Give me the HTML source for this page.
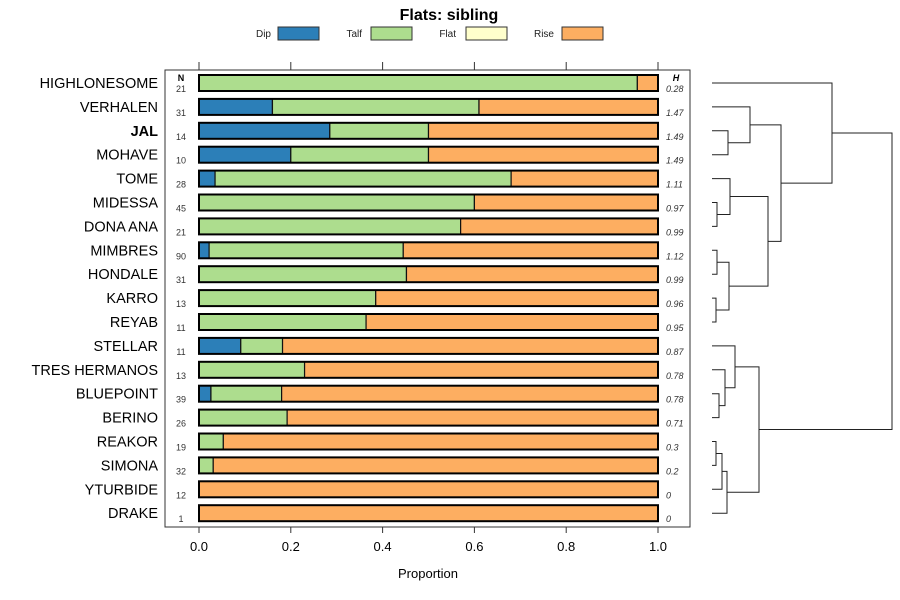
<!DOCTYPE html>
<html><head><meta charset="utf-8"><style>body{margin:0;background:#fff}svg{display:block;font-family:"Liberation Sans",sans-serif}</style></head>
<body>
<svg id="chart" width="900" height="600">
<text x="449" y="20" text-anchor="middle" font-size="16" font-weight="bold">Flats: sibling</text>
<g id="legend"></g>
<rect x="165" y="70" width="525" height="457" fill="none" stroke="#333"/>
<g id="bars"></g><g id="axes"></g><g id="dendro" stroke="#222" fill="none"></g>
<text x="428" y="578" text-anchor="middle" font-size="13">Proportion</text>
<text x="181" y="81" text-anchor="middle" font-size="9" font-weight="bold">N</text>
<text x="676" y="81" text-anchor="middle" font-size="9" font-weight="bold" font-style="italic">H</text>
</svg>
<script>
const categories=["HIGHLONESOME","VERHALEN","JAL","MOHAVE","TOME","MIDESSA","DONA ANA","MIMBRES","HONDALE","KARRO","REYAB","STELLAR","TRES HERMANOS","BLUEPOINT","BERINO","REAKOR","SIMONA","YTURBIDE","DRAKE"];
const dip=[0,0.16,0.285,0.2,0.035,0,0,0.022,0,0,0,0.091,0,0.026,0,0,0,0,0];
const talf=[0.955,0.45,0.215,0.3,0.645,0.6,0.57,0.423,0.452,0.385,0.364,0.091,0.23,0.154,0.192,0.053,0.031,0,0];
const flat=[0,0,0,0,0,0,0,0,0,0,0,0,0,0,0,0,0,0,0];
const nvals=[21,31,14,10,28,45,21,90,31,13,11,11,13,39,26,19,32,12,1];
const hvals=["0.28","1.47","1.49","1.49","1.11","0.97","0.99","1.12","0.99","0.96","0.95","0.87","0.78","0.78","0.71","0.3","0.2","0","0"];
const xticks=[0,0.2,0.4,0.6,0.8,1.0];
const xtickLabels=["0.0","0.2","0.4","0.6","0.8","1.0"];
const ns="http://www.w3.org/2000/svg";
const X=v=>199+v*459, Y=i=>83+i*23.9;
function mk(p,t,a){const e=document.createElementNS(ns,t);for(const k in a)e.setAttribute(k,a[k]);p.appendChild(e);return e;}
const colors=["#2c7fb8","#addd8e","#ffffcc","#fdae61"],names=["Dip","Talf","Flat","Rise"];
const lg=document.getElementById('legend');
[[271,278],[362,371],[456,466],[554,562]].forEach((p,i)=>{
 const t=mk(lg,'text',{x:p[0],y:37,'font-size':10,'text-anchor':'end',fill:'#222'});t.textContent=names[i];
 
 
 const r=mk(lg,'rect',{x:p[1],y:27,width:41,height:13,fill:colors[i],stroke:'#333'});
 
 
});
const bg=document.getElementById('bars');
categories.forEach((c,i)=>{
 const y=Y(i);const segs=[dip[i],talf[i],flat[i],1-dip[i]-talf[i]-flat[i]];let acc=0;
 segs.forEach((s,k)=>{if(s<=0)return;const r=mk(bg,'rect',{x:X(acc),y:y-8,width:X(acc+s)-X(acc),height:16,fill:colors[k],stroke:'#111','stroke-width':1.2});
  
  acc+=s;});
 const o=mk(bg,'rect',{x:X(0),y:y-8,width:X(1)-X(0),height:16,fill:'none',stroke:'#000','stroke-width':2});
 
 const l=mk(bg,'text',{x:158,y:y+5,'text-anchor':'end','font-size':14.5,'font-weight':c==='JAL'?'bold':'normal'});l.textContent=c;
 
 const n=mk(bg,'text',{x:181,y:y+9,'text-anchor':'middle','font-size':9,fill:'#333'});n.textContent=nvals[i];
 
 const h=mk(bg,'text',{x:666,y:y+9,'font-size':9,'font-style':'italic',fill:'#333'});h.textContent=hvals[i];
 
});
const ax=document.getElementById('axes');
xticks.forEach((v,i)=>{
 mk(ax,'line',{x1:X(v),x2:X(v),y1:527,y2:533,stroke:'#333'});
 mk(ax,'line',{x1:X(v),x2:X(v),y1:62,y2:70,stroke:'#333'});
 const t=mk(ax,'text',{x:X(v),y:551,'text-anchor':'middle','font-size':13});t.textContent=xtickLabels[i];
 
});
const dg=document.getElementById('dendro');
function node(a,b,x){return {a,b,x};}
function pos(n){if(typeof n==='number')return {x:712,y:Y(n)};const p=pos(n.a),q=pos(n.b);
 mk(dg,'path',{d:`M${p.x},${p.y}H${n.x}V${q.y}H${q.x}`});return {x:n.x,y:(p.y+q.y)/2};}
const t1=node(1,node(2,3,728),750), t2=node(4,node(5,6,717),730), t3=node(node(7,8,717),node(9,10,716),729);
const topClust=node(0,node(t1,node(t2,t3,768),781),832);
const botClust=node(node(11,node(12,node(13,14,719),725),735),node(node(node(15,16,716),17,722),18,727),759);
pos(node(topClust,botClust,892));
</script>
</body></html>
